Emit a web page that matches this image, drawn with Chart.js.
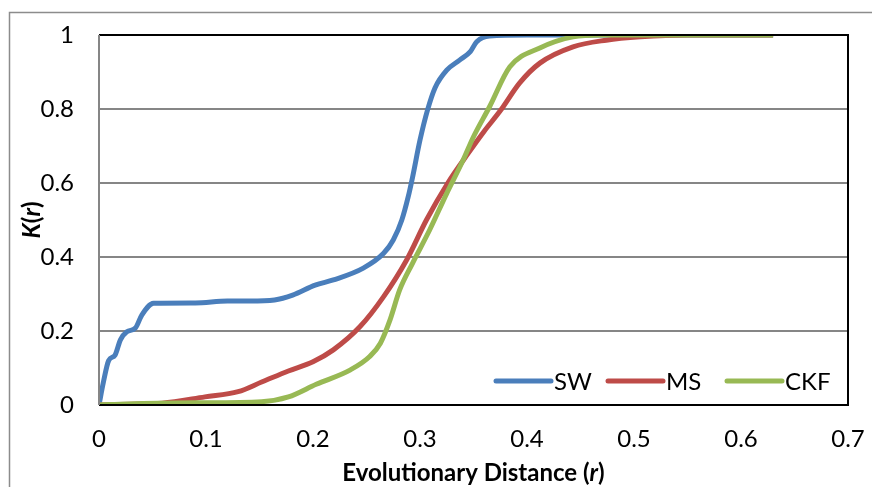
<!DOCTYPE html>
<html>
<head>
<meta charset="utf-8">
<script src="https://cdn.jsdelivr.net/npm/chart.js@4"></script>
<style>
  html, body { margin: 0; padding: 0; background: #fff; }
  #wrap { width: 872px; height: 487px; }
</style>
</head>
<body>
<div id="wrap"><canvas id="chart" width="872" height="487"></canvas></div>
<script>
// distance r and K(r) for each method
const swR  = [0, 0.004, 0.009, 0.015, 0.020, 0.026, 0.034, 0.040, 0.051, 0.09, 0.12, 0.141, 0.164, 0.181, 0.202, 0.219, 0.247, 0.266, 0.275, 0.283, 0.289, 0.293, 0.30, 0.307, 0.314, 0.325, 0.337, 0.347, 0.353, 0.365, 0.40, 0.45, 0.63];
const swK  = [0, 0.06, 0.12, 0.135, 0.176, 0.198, 0.208, 0.243, 0.275, 0.276, 0.281, 0.281, 0.284, 0.297, 0.324, 0.338, 0.370, 0.41, 0.446, 0.5, 0.563, 0.615, 0.716, 0.797, 0.857, 0.905, 0.932, 0.955, 0.982, 0.997, 1, 1, 1];

const msR  = [0, 0.03, 0.059, 0.099, 0.13, 0.152, 0.177, 0.2, 0.219, 0.244, 0.266, 0.2875, 0.306, 0.326, 0.345, 0.36, 0.375, 0.393, 0.412, 0.443, 0.474, 0.506, 0.55, 0.63];
const msK  = [0, 0.002, 0.005, 0.022, 0.036, 0.062, 0.092, 0.117, 0.149, 0.212, 0.293, 0.392, 0.5, 0.6, 0.68, 0.74, 0.795, 0.87, 0.924, 0.968, 0.986, 0.995, 1, 1];

const ckfR = [0, 0.027, 0.09, 0.152, 0.177, 0.203, 0.235, 0.253, 0.263, 0.272, 0.281, 0.293, 0.309, 0.325, 0.34, 0.35, 0.365, 0.384, 0.412, 0.443, 0.47, 0.63];
const ckfK = [0, 0.003, 0.006, 0.009, 0.022, 0.056, 0.095, 0.131, 0.167, 0.23, 0.311, 0.383, 0.473, 0.572, 0.66, 0.725, 0.806, 0.914, 0.965, 0.995, 1, 1];

const seriesNames = ['SW', 'MS', 'CKF'];
const colors = ['#4A7EBB', '#BE4B48', '#98B954'];

const FONT = 'Lato, "Open Sans", sans-serif';

function pairs(xs, ys) {
    return xs.map((x, i) => ({ x: x, y: ys[i] }));
}

// frame, custom legend and mixed-style axis titles
const decor = {
    id: 'decor',
    beforeDraw(chart) {
        const ctx = chart.ctx;
        ctx.save();
        ctx.strokeStyle = '#8c8c8c';
        ctx.lineWidth = 1.5;
        ctx.strokeRect(9.5, 12.5, 900, 500);
        ctx.restore();
    },
    afterDatasetsDraw(chart) {
        const ctx = chart.ctx;
        const a = chart.chartArea;
        ctx.save();
        // plot border: black top / right / bottom, gray left axis
        ctx.strokeStyle = '#000';
        ctx.lineWidth = 2;
        ctx.beginPath();
        ctx.moveTo(a.left, a.top);
        ctx.lineTo(a.right, a.top);
        ctx.lineTo(a.right, a.bottom);
        ctx.lineTo(a.left, a.bottom);
        ctx.stroke();
        ctx.strokeStyle = '#868686';
        ctx.beginPath();
        ctx.moveTo(a.left, a.top);
        ctx.lineTo(a.left, a.bottom);
        ctx.stroke();

        // legend
        const legendX = [496, 608, 727];
        const legendY = 381;
        ctx.font = '24px ' + FONT;
        ctx.textBaseline = 'middle';
        ctx.lineCap = 'round';
        ctx.lineWidth = 5;
        chart.data.datasets.forEach((ds, i) => {
            const x = legendX[i];
            ctx.strokeStyle = ds.borderColor;
            ctx.beginPath();
            ctx.moveTo(x, legendY);
            ctx.lineTo(x + 55, legendY);
            ctx.stroke();
            ctx.fillStyle = '#000';
            ctx.textAlign = 'left';
            ctx.fillText(ds.label, x + 58, legendY + 1);
        });

        // x title
        const bold = 'bold 24px ' + FONT;
        const boldIt = 'italic bold 24px ' + FONT;
        const xParts = [['Evolutionary Distance (', bold], ['r', boldIt], [')', bold]];
        drawParts(ctx, xParts, (a.left + a.right) / 2, 473);

        // y title, rotated
        const yParts = [['K', boldIt], ['(', bold], ['r', boldIt], [')', bold]];
        ctx.save();
        ctx.translate(32, (a.top + a.bottom) / 2);
        ctx.rotate(-Math.PI / 2);
        drawParts(ctx, yParts, 0, 0);
        ctx.restore();
        ctx.restore();
    }
};

function drawParts(ctx, parts, cx, cy) {
    let total = 0;
    parts.forEach(p => { ctx.font = p[1]; total += ctx.measureText(p[0]).width; });
    let x = cx - total / 2;
    ctx.fillStyle = '#000';
    ctx.textAlign = 'left';
    ctx.textBaseline = 'middle';
    parts.forEach(p => {
        ctx.font = p[1];
        ctx.fillText(p[0], x, cy);
        x += ctx.measureText(p[0]).width;
    });
}

const allR = [swR, msR, ckfR];
const allK = [swK, msK, ckfK];

const tickText = v => String(Math.round(v * 10) / 10);

new Chart(document.getElementById('chart'), {
    type: 'line',
    data: {
        datasets: seriesNames.map((name, i) => ({
            label: name,
            data: pairs(allR[i], allK[i]),
            borderColor: colors[i],
            backgroundColor: colors[i],
            borderWidth: 5,
            pointRadius: 0,
            cubicInterpolationMode: 'monotone',
            fill: false,
            order: 2 - i
        }))
    },
    options: {
        responsive: false,
        animation: false,
        layout: { padding: { top: 35, right: 24, left: 0, bottom: 0 } },
        plugins: { legend: { display: false }, tooltip: { enabled: false } },
        scales: {
            x: {
                type: 'linear',
                min: 0,
                max: 0.7,
                ticks: { stepSize: 0.1, color: '#000', font: { family: FONT, size: 24 }, padding: 12, maxRotation: 0, callback: tickText },
                grid: { display: false },
                border: { display: false },
                afterFit(scale) {
                    scale.height = 82;
                    scale.paddingLeft = 0;
                    scale.paddingRight = 0;
                }
            },
            y: {
                min: 0,
                max: 1,
                ticks: { stepSize: 0.2, color: '#000', font: { family: FONT, size: 24 }, padding: 25, callback: tickText },
                grid: { color: '#868686', lineWidth: 2, drawTicks: false },
                border: { display: false },
                afterFit(scale) {
                    scale.width = 99;
                    scale.paddingTop = 0;
                    scale.paddingBottom = 0;
                }
            }
        }
    },
    plugins: [decor]
});
</script>
</body>
</html>
